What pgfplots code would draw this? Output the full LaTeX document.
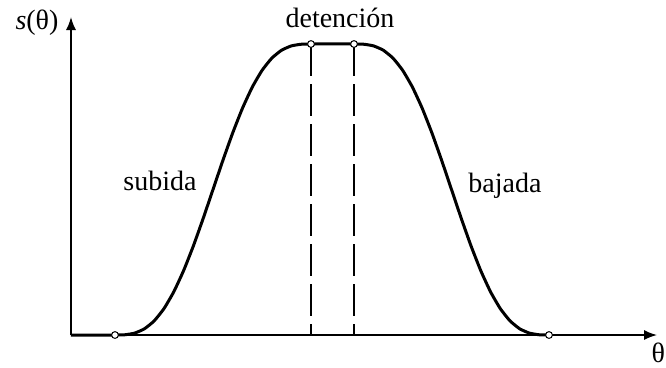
\documentclass[border=0pt]{standalone}
\usepackage{fontspec}
\setmainfont{Liberation Serif}
\usepackage{pgfplots}
\pgfplotsset{compat=1.18}
\usetikzlibrary{arrows.meta}
\begin{document}
\begin{tikzpicture}[every node/.style={font=\fontsize{14bp}{17bp}\selectfont}]
\begin{axis}[
  x=0.5bp, y=0.5bp,
  xmin=0, xmax=586, ymin=0, ymax=318,
  axis lines*=left,
  axis line style={line width=0.75bp, -{Latex[length=6.5bp,width=5bp]}},
  xtick=\empty, ytick=\empty,
  clip=false,
]
\coordinate (tl) at (axis cs:-71,335);
\coordinate (br) at (axis cs:595,-32);
% dashed dwell limits
\addplot[line width=0.7bp, dash pattern=on 16bp off 4bp] coordinates {(240,291) (240,0)};
\addplot[line width=0.7bp, dash pattern=on 16bp off 4bp] coordinates {(283,291) (283,0)};
% displacement curve
\addplot[line width=1.5bp, smooth, tension=0.3] coordinates {
 (0,0) (44,0)
 (53.8,0.238) (63.6,1.877) (73.4,6.181) (83.2,14.153) (93,26.436)
 (102.8,43.253) (112.6,64.381) (122.4,89.177) (132.2,116.638) (142,145.5)
 (151.8,174.362) (161.6,201.823) (171.4,226.619) (181.2,247.747) (191,264.564)
 (200.8,276.847) (210.6,284.819) (220.4,289.123) (230.2,290.762) (240,291)
 (283,291)
 (292.75,290.762) (302.5,289.123) (312.25,284.819) (322,276.847) (331.75,264.564)
 (341.5,247.747) (351.25,226.619) (361,201.823) (370.75,174.362) (380.5,145.5)
 (390.25,116.638) (400,89.177) (409.75,64.381) (419.5,43.253) (429.25,26.436)
 (439,14.153) (448.75,6.181) (458.5,1.877) (468.25,0.238) (478,0)
};
% junction points
\addplot[only marks, mark=*, mark size=1.7bp, mark options={fill=white, draw=black, line width=0.5bp}]
 coordinates {(44,0) (240,291) (283,291) (478,0)};
\node[anchor=base] at (axis cs:269,308) {detención};
\node[anchor=base] at (axis cs:89,145) {subida};
\node[anchor=base] at (axis cs:434,143) {bajada};
\node at (axis cs:-34,312) {\textit{s}(θ)};
\node[anchor=base east, inner sep=0pt] at (axis cs:594.5,-27) {θ};
\end{axis}
\pgfresetboundingbox
\useasboundingbox (tl) rectangle (br);
\end{tikzpicture}
\end{document}
